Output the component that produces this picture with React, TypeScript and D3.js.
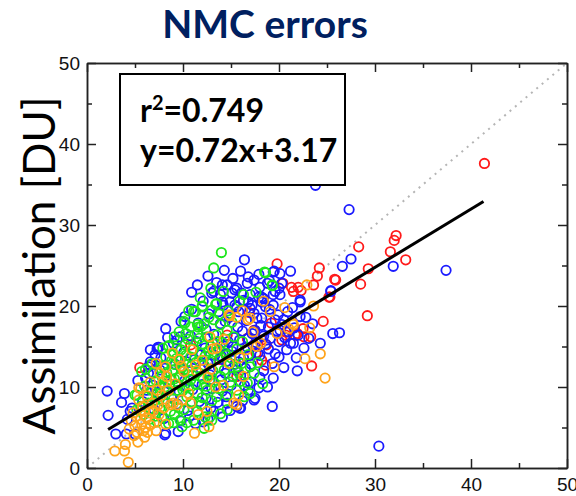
import React, { useEffect, useRef } from 'react';
import * as d3 from 'd3';

const axisTicks = [0, 10, 20, 30, 40, 50];
const minorTicks = [5, 15, 25, 35, 45];
const fitSlope = 0.72;
const fitIntercept = 3.17;
const fitRange = [2.2, 41.3];
const statR2 = '0.749';

const redPts = [
  [41.4, 37.6], [32.2, 28.7], [32.0, 28.1], [28.3, 27.3], [31.6, 26.7], [33.2, 25.7], [29.3, 24.6], [25.8, 23.3],
  [28.5, 22.7], [25.3, 21.1], [29.2, 18.8], [19.8, 25.2], [24.2, 24.7], [25.9, 23.2], [24.0, 23.7], [23.6, 22.6],
  [20.4, 22.8], [21.3, 22.3], [22.0, 22.3], [21.5, 21.8], [22.3, 21.9], [25.2, 21.1], [23.4, 12.6], [16.7, 16.0],
  [17.4, 17.0], [18.2, 15.8], [18.7, 15.2], [20.7, 16.4], [21.9, 16.6], [22.6, 16.2], [23.3, 16.2], [20.3, 15.8],
  [22.5, 17.2], [21.7, 16.4], [20.7, 16.8], [5.5, 12.4], [18.6, 12.7], [18.2, 13.3], [15.6, 11.3], [12.1, 12.7],
  [9.6, 11.2], [14.6, 16.4], [16.9, 19.2], [19.2, 17.9], [13.8, 13.4], [24.6, 18.1], [10.8, 15.2], [17.6, 14.2],
];

const bluePts = [
  [27.3, 31.9], [23.8, 34.9], [27.5, 25.8], [26.6, 24.9], [31.9, 24.9], [37.4, 24.4], [25.4, 21.9], [25.6, 16.6],
  [26.3, 16.7], [30.4, 2.7], [16.4, 25.7], [16.8, 23.6], [17.9, 23.9], [19.5, 24.3], [21.2, 24.3], [25.4, 21.8],
  [12.6, 23.7], [10.9, 21.7], [13.0, 21.6], [10.2, 18.7], [12.7, 19.0], [8.2, 17.2], [9.7, 16.2], [7.5, 14.9],
  [2.1, 9.5], [2.2, 6.5], [3.6, 8.1], [3.0, 4.2], [4.1, 4.2], [5.0, 4.2], [8.1, 4.1], [11.3, 5.5],
  [12.1, 5.7], [6.4, 12.5], [7.3, 14.7], [4.7, 7.4], [19.3, 7.6], [17.5, 8.6], [15.9, 7.4], [16.8, 9.6],
  [14.5, 8.8], [14.6, 22.6], [13.2, 21.8], [13.9, 21.4], [15.1, 21.6], [15.6, 22.2], [16.7, 22.8], [17.4, 23.2],
  [18.2, 21.1], [17.0, 21.4], [16.3, 20.7], [14.9, 20.5], [14.2, 20.1], [15.6, 19.9], [17.2, 20.1], [18.2, 20.5],
  [18.8, 22.8], [19.4, 24.2], [20.1, 24.0], [20.3, 22.8], [19.6, 21.8], [20.1, 21.4], [22.2, 20.5], [19.4, 20.1],
  [7.1, 14.0], [6.6, 12.7], [6.4, 11.7], [6.1, 11.1], [4.5, 7.0], [8.2, 4.3], [9.5, 4.5], [13.2, 7.0],
  [14.6, 8.0], [15.6, 7.6], [16.0, 7.4], [17.4, 8.4], [18.8, 10.0], [20.0, 13.7], [20.8, 14.6], [20.1, 17.0],
  [20.5, 18.3], [21.5, 15.4], [22.2, 18.7], [7.4, 14.9], [6.6, 13.1], [7.6, 12.1], [9.4, 15.8], [9.7, 12.5],
  [14.1, 22.6], [15.4, 22.0], [16.1, 21.6], [14.1, 20.5], [15.4, 20.1], [16.8, 20.5], [17.9, 21.1], [18.4, 20.9],
  [19.4, 21.4], [20.0, 22.2], [18.6, 19.9], [17.0, 19.7], [15.8, 19.3], [13.7, 19.3], [14.4, 18.1], [18.2, 18.5],
  [19.6, 18.3], [18.9, 17.4], [20.3, 17.7], [21.0, 16.8], [17.5, 17.0], [16.8, 16.0], [14.7, 15.6], [20.0, 15.6],
  [21.2, 15.4], [22.0, 16.4], [23.1, 16.0], [22.2, 20.7], [9.2, 12.8], [10.1, 14.3], [10.6, 11.9], [11.2, 13.4],
  [11.9, 12.2], [12.3, 14.8], [12.8, 11.5], [13.3, 13.9], [13.7, 12.4], [14.2, 15.1], [14.6, 13.2], [15.1, 14.4],
  [15.5, 12.1], [15.9, 15.8], [16.3, 13.6], [16.7, 14.9], [17.1, 12.8], [17.6, 15.5], [18.0, 13.9], [18.4, 16.3],
  [18.9, 14.7], [19.3, 12.9], [19.8, 16.9], [12.0, 10.3], [13.0, 9.8], [14.0, 10.9], [15.0, 10.2], [16.0, 11.4],
  [17.0, 10.6], [18.0, 11.2], [13.6, 8.1], [14.9, 7.1], [12.4, 8.6], [11.0, 9.7], [10.2, 10.8], [9.6, 9.4],
  [8.6, 10.4], [8.1, 12.3], [7.7, 13.6], [9.0, 15.4], [10.8, 16.3], [11.6, 17.9], [12.4, 17.1], [13.2, 16.5],
  [13.9, 17.8], [14.8, 18.6], [15.7, 17.4], [16.6, 18.2], [17.4, 19.1], [16.2, 16.9], [15.3, 16.1], [11.4, 15.6],
  [10.4, 13.1], [12.6, 12.9], [13.8, 14.6], [14.4, 11.7], [15.8, 13.1], [17.8, 14.2], [18.6, 15.3], [19.6, 14.1],
  [20.6, 16.1], [21.6, 17.3], [20.9, 19.3], [19.0, 19.6], [18.1, 17.6], [17.2, 16.6], [16.5, 12.3], [14.1, 9.5],
  [12.9, 7.4], [11.7, 8.2], [10.5, 7.1], [9.4, 7.9], [8.8, 8.7], [7.4, 9.3], [6.9, 10.2], [6.2, 9.6],
  [5.8, 8.2], [7.0, 7.2], [8.0, 6.1], [9.8, 5.8], [10.7, 6.4], [12.6, 6.0], [14.1, 6.3], [4.2, 6.0],
  [3.9, 9.2], [5.3, 10.8], [6.6, 14.6], [8.4, 16.1], [9.8, 18.1], [10.9, 19.6], [12.1, 20.6], [11.5, 22.6],
  [13.5, 22.9], [14.3, 24.4], [15.2, 23.4], [16.0, 24.3], [18.0, 22.3], [19.0, 23.1], [17.7, 18.5], [19.9, 18.9],
  [21.4, 19.8], [22.8, 18.6], [23.5, 17.8], [24.3, 15.4], [22.6, 14.8], [21.8, 13.6], [20.5, 12.4], [19.4, 11.1],
  [17.9, 9.9], [16.2, 8.3], [21.9, 12.0], [16.9, 13.9], [15.2, 15.0], [13.1, 15.4], [11.9, 14.0], [12.8, 10.9],
  [16.4, 10.2], [18.4, 12.0], [19.1, 16.0], [17.3, 15.1], [15.4, 12.8], [14.0, 13.8],
];

const greenPts = [
  [14.0, 26.6], [13.2, 24.7], [18.6, 24.1], [19.3, 22.6], [16.3, 21.4], [13.5, 20.3], [12.0, 19.9], [11.1, 19.3],
  [12.7, 18.6], [13.2, 18.3], [13.9, 17.7], [10.1, 18.1], [10.8, 17.4], [11.6, 17.4], [11.5, 16.6], [12.5, 16.2],
  [13.5, 16.4], [14.6, 17.0], [15.3, 16.2], [8.5, 15.0], [9.4, 14.8], [10.2, 15.2], [8.2, 13.7], [9.0, 14.0],
  [9.7, 13.3], [10.8, 13.7], [11.8, 14.2], [12.8, 13.1], [13.9, 13.7], [14.9, 12.9], [15.6, 12.5], [17.0, 12.5],
  [17.4, 11.7], [5.7, 11.9], [6.9, 11.7], [7.8, 11.3], [8.7, 10.9], [9.7, 11.3], [10.8, 10.9], [11.8, 11.3],
  [12.8, 10.7], [13.9, 11.3], [16.0, 10.7], [16.7, 10.5], [5.2, 9.0], [6.3, 8.8], [7.3, 9.2], [8.3, 9.6],
  [9.4, 9.6], [10.4, 8.8], [11.5, 9.2], [12.5, 9.6], [13.5, 8.8], [14.6, 9.0], [15.6, 9.6], [17.0, 9.2],
  [5.6, 7.6], [6.6, 7.2], [7.6, 7.4], [8.7, 7.0], [10.1, 7.2], [11.5, 7.0], [12.8, 6.3], [13.9, 6.7],
  [14.6, 7.2], [8.5, 5.5], [7.3, 5.7], [9.7, 5.9], [13.0, 5.9], [7.9, 12.6], [8.9, 12.1], [9.9, 12.4],
  [10.9, 12.6], [11.5, 11.8], [12.2, 12.7], [13.1, 12.0], [10.3, 13.9], [9.3, 13.5], [11.1, 14.7], [12.0, 15.3],
  [12.9, 15.0], [13.6, 15.6], [14.4, 14.2], [10.6, 10.1], [9.5, 10.3], [8.4, 10.6], [7.6, 10.0], [7.1, 8.4],
  [8.0, 8.2], [9.0, 8.5], [10.0, 9.6], [11.3, 10.4], [12.4, 10.1], [13.2, 10.6], [14.3, 12.1], [15.2, 11.3],
  [16.1, 12.9], [15.6, 14.7], [6.0, 10.1], [6.8, 12.9], [5.9, 6.6], [6.5, 6.0], [7.8, 6.2], [9.1, 6.6],
  [10.4, 5.6], [12.2, 4.9], [11.9, 7.8], [13.0, 8.3], [9.6, 16.8], [10.6, 19.4], [11.8, 21.0], [14.7, 19.4],
  [15.9, 20.6], [17.6, 21.7], [13.0, 19.5], [5.0, 9.0], [5.2, 7.2], [9.0, 5.6], [12.3, 6.3], [9.9, 5.1],
  [10.2, 17.9], [11.5, 17.7], [11.9, 17.5], [8.5, 15.1], [13.4, 20.2], [11.3, 19.3], [12.0, 20.0], [18.5, 24.2],
  [19.3, 22.5], [16.8, 14.0], [15.0, 13.6], [8.3, 11.8], [10.6, 12.0], [12.1, 11.0], [8.8, 13.2], [9.8, 14.6],
  [10.5, 15.9], [11.7, 16.0], [12.3, 13.8], [13.4, 14.3], [14.1, 15.5], [11.0, 11.4], [10.1, 10.0], [9.1, 11.0],
  [8.1, 10.0], [7.4, 8.8], [6.7, 9.6], [8.4, 8.0], [9.6, 7.4], [10.9, 8.2], [12.0, 8.7], [13.7, 9.8],
  [14.9, 10.6], [15.8, 11.8], [14.5, 13.9], [12.7, 14.4], [11.3, 13.0], [10.0, 12.0], [9.1, 12.8], [7.2, 10.8],
  [6.4, 8.0], [7.9, 14.8], [9.1, 16.2], [10.3, 16.6], [12.2, 17.8], [13.8, 19.0], [14.2, 21.8], [12.9, 22.2],
  [15.1, 18.0], [16.2, 15.6], [17.8, 13.0], [18.3, 10.4], [16.4, 8.8], [11.1, 5.9], [7.1, 6.4], [6.1, 12.2],
];

const orangePts = [
  [22.7, 13.5], [24.3, 14.1], [24.8, 11.1], [19.5, 12.5], [15.6, 7.8], [15.8, 9.0], [23.6, 20.0], [22.9, 22.6],
  [23.2, 17.3], [4.3, 0.7], [2.9, 2.1], [3.9, 2.1], [4.0, 2.9], [5.3, 3.2], [6.3, 4.4], [11.2, 4.3],
  [8.7, 7.8], [5.4, 9.9], [21.5, 17.7], [21.0, 17.2], [18.1, 15.4], [17.7, 15.0], [19.1, 19.3], [17.0, 18.5],
  [14.9, 18.8], [15.6, 18.6], [13.5, 14.8], [16.3, 11.3], [15.3, 8.0], [12.5, 7.0], [11.3, 12.7], [12.8, 16.2],
  [8.2, 12.5], [8.3, 11.3], [9.0, 8.0], [9.4, 7.8], [10.8, 8.0], [5.6, 9.8], [6.3, 8.9], [7.3, 9.6],
  [5.0, 5.2], [5.6, 6.0], [6.1, 5.0], [6.5, 6.8], [7.0, 5.6], [5.8, 7.6], [6.8, 8.0], [7.5, 6.6],
  [8.0, 7.4], [5.2, 4.4], [6.0, 3.8], [7.2, 4.6], [4.6, 5.9], [5.4, 8.4], [7.8, 9.0], [8.5, 9.6],
  [6.6, 10.6], [7.6, 11.7], [9.2, 10.4], [10.1, 11.9], [9.6, 13.4], [10.9, 14.6], [12.0, 13.3], [13.1, 14.7],
  [14.3, 15.9], [12.6, 11.2], [11.4, 12.0], [8.9, 14.2], [7.2, 12.9], [9.9, 8.4], [11.6, 6.6], [13.4, 10.0],
  [14.8, 12.9], [16.6, 14.6], [17.3, 16.8], [16.2, 19.4], [18.4, 20.6], [20.6, 19.8], [19.8, 16.6], [14.2, 10.2],
  [12.7, 5.1], [6.2, 6.2], [6.9, 7.1], [5.7, 5.4], [4.8, 6.8], [4.9, 4.0], [5.9, 4.6], [6.6, 5.3],
  [7.4, 7.8], [6.0, 7.0], [5.1, 6.4], [4.4, 4.8], [8.2, 5.4], [7.9, 10.6], [9.8, 12.6], [10.6, 9.2],
  [12.9, 12.2], [15.9, 13.6], [16.8, 18.3], [21.4, 17.9], [14.8, 18.9],
];

const groups = [
  { pts: redPts, color: '#ff1a1a' },
  { pts: bluePts, color: '#1a1aff' },
  { pts: greenPts, color: '#1ee61e' },
  { pts: orangePts, color: '#ffa31a' },
];

export default function App() {
  const ref = useRef(null);

  useEffect(() => {
    const container = ref.current;
    if (!container) return;
    container.innerHTML = '';

    const width = 576;
    const height = 496;
    const margin = { top: 63, right: 9, bottom: 28, left: 87 };
    const innerWidth = width - margin.left - margin.right;
    const innerHeight = height - margin.top - margin.bottom;

    const svg = d3.select(container)
      .append('svg')
      .attr('width', width)
      .attr('height', height)
      .style('position', 'absolute')
      .style('left', 0)
      .style('top', 0)
      .style('background', '#fff');

    svg.append('text')
      .attr('x', 265)
      .attr('y', 38)
      .attr('text-anchor', 'middle')
      .attr('font-family', 'Lato, sans-serif')
      .attr('font-weight', 700)
      .attr('font-size', 39)
      .attr('fill', '#002060')
      .text('NMC errors');

    svg.append('text')
      .attr('transform', `translate(55,${margin.top + innerHeight / 2}) rotate(-90)`)
      .attr('text-anchor', 'middle')
      .attr('font-family', 'Lato, sans-serif')
      .attr('font-size', 44)
      .attr('fill', '#000')
      .text('Assimilation [DU]');

    const g = svg.append('g').attr('transform', `translate(${margin.left},${margin.top})`);

    const x = d3.scaleLinear().domain([0, 50]).range([0, innerWidth]);
    const y = d3.scaleLinear().domain([0, 50]).range([innerHeight, 0]);

    // 1:1 dotted line
    g.append('line')
      .attr('x1', x(0)).attr('y1', y(0))
      .attr('x2', x(50)).attr('y2', y(50))
      .attr('stroke', '#b5b5b5')
      .attr('stroke-width', 2)
      .attr('stroke-dasharray', '2,5');

    groups.forEach(grp => {
      g.append('g')
        .selectAll('circle')
        .data(grp.pts)
        .enter()
        .append('circle')
        .attr('cx', d => x(d[0]))
        .attr('cy', d => y(d[1]))
        .attr('r', 4.7)
        .attr('fill', 'none')
        .attr('stroke', grp.color)
        .attr('stroke-width', 1.8);
    });

    g.append('line')
      .attr('x1', x(fitRange[0])).attr('y1', y(fitSlope * fitRange[0] + fitIntercept))
      .attr('x2', x(fitRange[1])).attr('y2', y(fitSlope * fitRange[1] + fitIntercept))
      .attr('stroke', '#000')
      .attr('stroke-width', 3);

    const styleAxis = sel => {
      sel.select('.domain').attr('stroke', '#222').attr('stroke-width', 1.5);
      sel.selectAll('.tick line').attr('stroke', '#222').attr('stroke-width', 1.5);
      sel.selectAll('text')
        .attr('font-family', 'Liberation Sans, Arial, sans-serif')
        .attr('font-size', 19)
        .attr('fill', '#111');
    };

    const fmt = d3.format('d');
    g.append('g').attr('transform', `translate(0,${innerHeight})`)
      .call(d3.axisBottom(x).tickValues(axisTicks).tickSize(-9).tickSizeOuter(0).tickPadding(10).tickFormat(fmt))
      .call(styleAxis);
    g.append('g').attr('transform', `translate(0,${innerHeight})`)
      .call(d3.axisBottom(x).tickValues(minorTicks).tickSize(-5).tickSizeOuter(0).tickFormat(() => ''))
      .call(styleAxis);
    g.append('g')
      .call(d3.axisTop(x).tickValues(axisTicks).tickSize(-9).tickSizeOuter(0).tickFormat(() => ''))
      .call(styleAxis);
    g.append('g')
      .call(d3.axisTop(x).tickValues(minorTicks).tickSize(-5).tickSizeOuter(0).tickFormat(() => ''))
      .call(styleAxis);
    g.append('g')
      .call(d3.axisLeft(y).tickValues(axisTicks).tickSize(-9).tickSizeOuter(0).tickPadding(7).tickFormat(fmt))
      .call(styleAxis);
    g.append('g')
      .call(d3.axisLeft(y).tickValues(minorTicks).tickSize(-5).tickSizeOuter(0).tickFormat(() => ''))
      .call(styleAxis);
    g.append('g').attr('transform', `translate(${innerWidth},0)`)
      .call(d3.axisRight(y).tickValues(axisTicks).tickSize(-9).tickSizeOuter(0).tickFormat(() => ''))
      .call(styleAxis);
    g.append('g').attr('transform', `translate(${innerWidth},0)`)
      .call(d3.axisRight(y).tickValues(minorTicks).tickSize(-5).tickSizeOuter(0).tickFormat(() => ''))
      .call(styleAxis);

    // stats box
    const box = svg.append('g').attr('transform', 'translate(120,74)');
    box.append('rect')
      .attr('width', 225)
      .attr('height', 111)
      .attr('fill', '#fff')
      .attr('stroke', '#000')
      .attr('stroke-width', 2);
    const t1 = box.append('text')
      .attr('x', 20)
      .attr('y', 48)
      .attr('font-family', 'Lato, sans-serif')
      .attr('font-weight', 700)
      .attr('font-size', 32)
      .attr('fill', '#000');
    t1.append('tspan').text('r');
    t1.append('tspan').attr('dy', -12).attr('font-size', 20).text('2');
    t1.append('tspan').attr('dy', 12).text('=' + statR2);
    box.append('text')
      .attr('x', 20)
      .attr('y', 88)
      .attr('font-family', 'Lato, sans-serif')
      .attr('font-weight', 700)
      .attr('font-size', 32)
      .attr('fill', '#000')
      .text(`y=${fitSlope}x+${fitIntercept}`);
  }, []);

  return <div ref={ref} />;
}
